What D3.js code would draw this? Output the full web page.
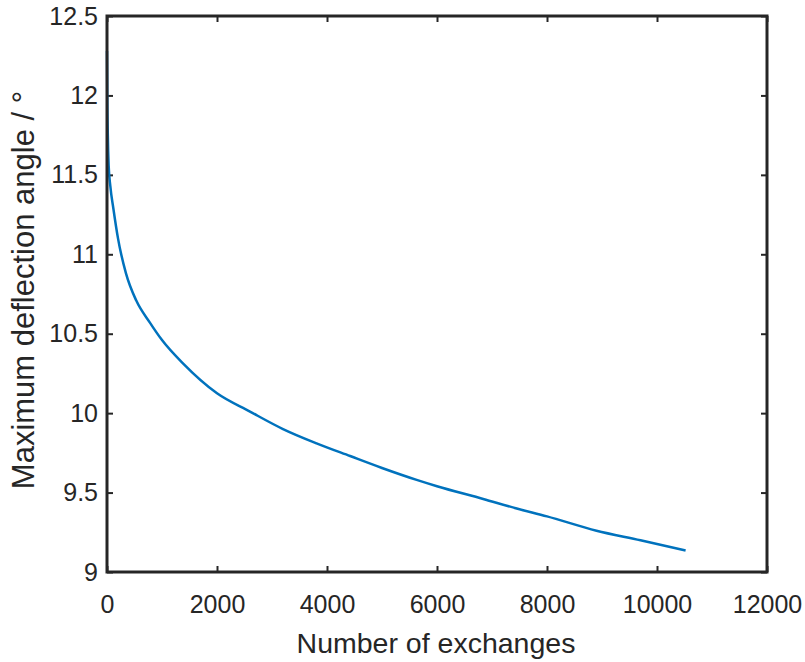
<!DOCTYPE html>
<html>
<head>
<meta charset="utf-8">
<script src="https://cdn.jsdelivr.net/npm/d3@7"></script>
<style>
  body { margin: 0; background: #fff; }
  svg text { font-family: "Liberation Sans", Arial, sans-serif; fill: #262626; }
</style>
</head>
<body>
<svg id="chart"></svg>
<script>
const width = 805, height = 662;
const margin = {top: 16, right: 38, bottom: 90, left: 107};

// number of exchanges vs maximum deflection angle
const exchanges = [0, 5, 15, 30, 60, 115, 200, 345, 530, 780, 1000, 1390, 2000, 2600, 3200, 3810, 4420, 5000, 5630, 6000, 6840, 7450, 8000, 8900, 9700, 10520];
const angles = [12.28, 12.0, 11.75, 11.56, 11.43, 11.29, 11.1, 10.88, 10.71, 10.57, 10.46, 10.31, 10.125, 10.01, 9.9, 9.81, 9.73, 9.655, 9.58, 9.54, 9.46, 9.4, 9.35, 9.26, 9.2, 9.135];

const xTicks = [0, 2000, 4000, 6000, 8000, 10000, 12000];
const yTicks = [9, 9.5, 10, 10.5, 11, 11.5, 12, 12.5];

const data = exchanges.map((e, i) => ({x: e, y: angles[i]}));

const svg = d3.select('#chart').attr('width', width).attr('height', height);

const x = d3.scaleLinear([0, 12000], [margin.left, width - margin.right]);
const y = d3.scaleLinear([9, 12.5], [height - margin.bottom, margin.top]);

const axisColor = '#262626';
const tickLen = 6;

// x axis (bottom) + mirrored top ticks
svg.append('g')
  .attr('transform', `translate(0,${y(9)})`)
  .call(d3.axisBottom(x).tickValues(xTicks).tickSizeInner(-tickLen).tickSizeOuter(0).tickPadding(23).tickFormat(d3.format('d')))
  .call(g => g.select('.domain').remove())
  .call(g => g.selectAll('line').attr('stroke', axisColor).attr('stroke-width', 2))
  .call(g => g.selectAll('text').attr('font-size', 25).attr('fill', axisColor));

svg.append('g')
  .attr('transform', `translate(0,${y(12.5)})`)
  .call(d3.axisTop(x).tickValues(xTicks).tickSizeInner(-tickLen).tickSizeOuter(0).tickFormat(''))
  .call(g => g.select('.domain').remove())
  .call(g => g.selectAll('line').attr('stroke', axisColor).attr('stroke-width', 2));

// y axis (left) + mirrored right ticks
svg.append('g')
  .attr('transform', `translate(${x(0)},0)`)
  .call(d3.axisLeft(y).tickValues(yTicks).tickSizeInner(-tickLen).tickSizeOuter(0).tickPadding(9).tickFormat(d => d3.format('')(d)))
  .call(g => g.select('.domain').remove())
  .call(g => g.selectAll('line').attr('stroke', axisColor).attr('stroke-width', 2))
  .call(g => g.selectAll('text').attr('font-size', 25).attr('fill', axisColor));

svg.append('g')
  .attr('transform', `translate(${x(12000)},0)`)
  .call(d3.axisRight(y).tickValues(yTicks).tickSizeInner(-tickLen).tickSizeOuter(0).tickFormat(''))
  .call(g => g.select('.domain').remove())
  .call(g => g.selectAll('line').attr('stroke', axisColor).attr('stroke-width', 2));

// data line
const line = d3.line()
  .x(d => x(d.x))
  .y(d => y(d.y))
  .curve(d3.curveMonotoneX);

svg.append('path')
  .datum(data)
  .attr('fill', 'none')
  .attr('stroke', '#0072BD')
  .attr('stroke-width', 2.5)
  .attr('d', line);

// box
svg.append('rect')
  .attr('x', x(0))
  .attr('y', y(12.5))
  .attr('width', x(12000) - x(0))
  .attr('height', y(9) - y(12.5))
  .attr('fill', 'none')
  .attr('stroke', axisColor)
  .attr('stroke-width', 3);

// axis titles
svg.append('text')
  .attr('x', (x(0) + x(12000)) / 2 - 1)
  .attr('y', 653)
  .attr('text-anchor', 'middle')
  .attr('font-size', 28.5)
  .text('Number of exchanges');

svg.append('text')
  .attr('transform', `translate(34,290) rotate(-90)`)
  .attr('text-anchor', 'middle')
  .attr('font-size', 31)
  .text('Maximum deflection angle / °');
</script>
</body>
</html>
